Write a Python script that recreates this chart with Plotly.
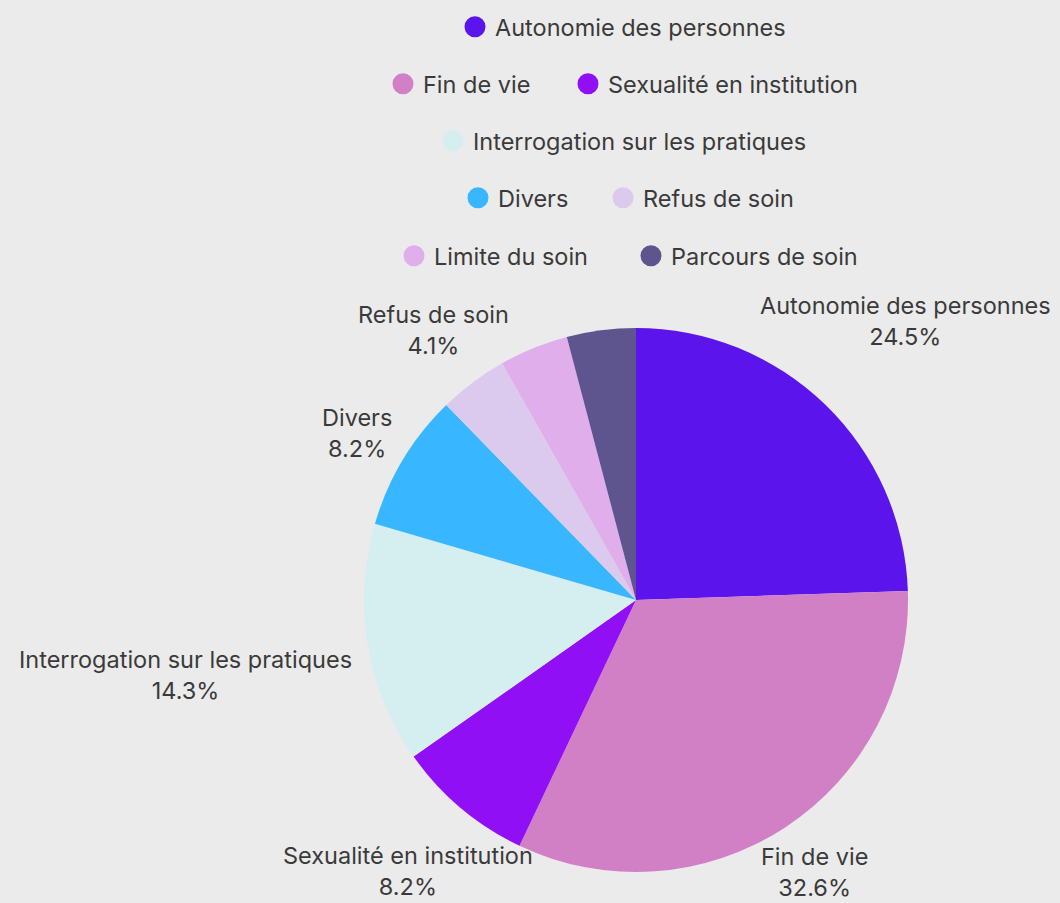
import math
import plotly.graph_objects as go

# ---- data ----
categories = ["Autonomie des personnes", "Fin de vie", "Sexualité en institution",
              "Interrogation sur les pratiques", "Divers", "Refus de soin",
              "Limite du soin", "Parcours de soin"]
values = [24.5, 32.6, 8.2, 14.3, 8.2, 4.1, 4.1, 4.1]
show_label = [True, True, True, True, True, True, False, False]

# ---- style ----
colors = ["#5b14eb", "#d180c6", "#900ff5", "#d5eef0", "#38b6ff", "#dccaee", "#e0aeeb", "#5e558f"]
FONT = "Inter"
FS = 23.5
TXT = "#3a3a3a"
BG = "#ebebeb"
W, H = 1060, 903
CX, CY, R = 636, 600, 272
label_dist = [388, 325, 354, 457, 325, 338, 330, 330]
legend_rows = [[0], [1, 2], [3], [4, 5], [6, 7]]
legend_row_y = [27, 84, 141, 198, 256]
legend_marker_x = [474, 402, 587, 452, 477, 622, 413, 650]

fig = go.Figure()
fig.add_trace(go.Pie(
    labels=categories, values=values, sort=False, direction="clockwise", rotation=0,
    marker=dict(colors=colors, line=dict(width=0)),
    textinfo="none", showlegend=False,
    domain=dict(x=[(CX - R) / W, (CX + R) / W], y=[1 - (CY + R) / H, 1 - (CY - R) / H]),
))

# legend entries (circle markers), one legend per entry so rows stay centered
layout_legends = {}
for row, ys in zip(legend_rows, legend_row_y):
    for i in row:
        key = "legend" if i == 0 else f"legend{i + 1}"
        fig.add_trace(go.Scatter(
            x=[None], y=[None], mode="markers", name=categories[i],
            marker=dict(color=colors[i], size=16, line=dict(color=colors[i], width=5)),
            showlegend=True, legend=key, hoverinfo="skip",
        ))
        layout_legends[key] = dict(
            x=(legend_marker_x[i] - 19) / W, xanchor="left",
            y=1 - ys / H, yanchor="middle", orientation="h",
            bgcolor="rgba(0,0,0,0)", font=dict(family=FONT, size=FS, color=TXT),
            itemsizing="trace",
        )

# outside labels, placed along each slice's mid-angle
total = sum(values)
cum = 0.0
annotations = []
for i, (c, v) in enumerate(zip(categories, values)):
    mid = (cum + v / 2) / total * 2 * math.pi
    cum += v
    if not show_label[i]:
        continue
    d = label_dist[i]
    px = CX + d * math.sin(mid)
    py = CY - d * math.cos(mid)
    annotations.append(dict(
        x=px / W, y=1 - py / H, xref="paper", yref="paper",
        text=f"{c}<br>{v:.1f}%", showarrow=False, xanchor="center", yanchor="middle",
        align="center", font=dict(family=FONT, size=FS, color=TXT),
    ))

fig.update_layout(
    width=W, height=H, margin=dict(l=0, r=0, t=0, b=0),
    paper_bgcolor=BG, plot_bgcolor=BG,
    xaxis=dict(visible=False), yaxis=dict(visible=False),
    annotations=annotations,
    font=dict(family=FONT, size=FS, color=TXT),
    **layout_legends,
)
fig.write_html("out.html", config={"displayModeBar": False},
               post_script="document.body.style.margin='0';")
